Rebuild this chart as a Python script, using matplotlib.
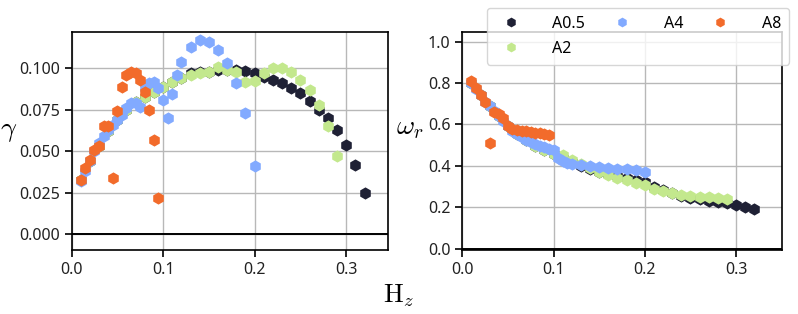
import matplotlib
matplotlib.use("Agg")
import matplotlib.pyplot as plt
from matplotlib.ticker import FormatStrFormatter, MultipleLocator

plt.rcParams['font.family'] = ['Noto Sans', 'DejaVu Sans']
plt.rcParams['mathtext.fontset'] = 'cm'

# ---- data ----
labels = ["A0.5", "A2", "A4", "A8"]
colors = ["#1f2135", "#c3e88d", "#82aaff", "#f26b2b"]

x_a05 = [0.01, 0.02, 0.03, 0.04, 0.05, 0.06, 0.07, 0.08, 0.09, 0.10, 0.11, 0.12,
         0.13, 0.14, 0.15, 0.16, 0.17, 0.18, 0.19, 0.20, 0.21, 0.22, 0.23, 0.24,
         0.25, 0.26, 0.27, 0.28, 0.29, 0.30, 0.31, 0.32]
g_a05 = [0.033, 0.044, 0.053, 0.062, 0.069, 0.075, 0.080, 0.083, 0.086, 0.089, 0.092, 0.094,
         0.097, 0.0975, 0.098, 0.099, 0.099, 0.099, 0.0986, 0.0974, 0.095, 0.093, 0.091, 0.088,
         0.085, 0.0805, 0.075, 0.070, 0.063, 0.054, 0.042, 0.025]
w_a05 = [0.80, 0.74, 0.69, 0.64, 0.59, 0.555, 0.525, 0.495, 0.475, 0.458, 0.44, 0.42,
         0.40, 0.385, 0.37, 0.36, 0.35, 0.34, 0.33, 0.322, 0.30, 0.285, 0.27, 0.255,
         0.245, 0.238, 0.232, 0.226, 0.22, 0.212, 0.203, 0.19]

x_a2 = [0.01, 0.02, 0.03, 0.04, 0.05, 0.06, 0.07, 0.08, 0.09, 0.10, 0.11, 0.12,
        0.13, 0.14, 0.15, 0.16, 0.17, 0.18, 0.19, 0.20, 0.21, 0.22, 0.23, 0.24,
        0.25, 0.26, 0.27, 0.28, 0.29]
g_a2 = [0.033, 0.044, 0.053, 0.062, 0.069, 0.075, 0.080, 0.083, 0.086, 0.089, 0.092, 0.094,
        0.096, 0.097, 0.098, 0.101, 0.099, 0.098, 0.092, 0.0925, 0.097, 0.100, 0.100, 0.098,
        0.093, 0.087, 0.078, 0.065, 0.047]
w_a2 = [0.80, 0.74, 0.69, 0.64, 0.59, 0.555, 0.525, 0.495, 0.475, 0.458, 0.45, 0.43,
        0.41, 0.39, 0.37, 0.355, 0.34, 0.33, 0.318, 0.305, 0.29, 0.278, 0.267, 0.26,
        0.255, 0.25, 0.247, 0.244, 0.24]

x_a4 = [0.010, 0.015, 0.020, 0.025, 0.030, 0.035, 0.040, 0.045, 0.050, 0.055, 0.060,
        0.065, 0.070, 0.075, 0.080, 0.085, 0.090, 0.095, 0.100, 0.105, 0.110, 0.115,
        0.120, 0.13, 0.14, 0.15, 0.16, 0.17, 0.18, 0.19, 0.20]
g_a4 = [0.032, 0.038, 0.044, 0.050, 0.055, 0.059, 0.063, 0.066, 0.069, 0.072, 0.076,
        0.079, 0.079, 0.077, 0.088, 0.091, 0.092, 0.088, 0.081, 0.070, 0.0845, 0.096,
        0.104, 0.113, 0.117, 0.116, 0.111, 0.103, 0.091, 0.073, 0.041]
w_a4 = [0.80, 0.77, 0.74, 0.71, 0.69, 0.665, 0.64, 0.615, 0.59, 0.57, 0.555,
        0.54, 0.525, 0.515, 0.505, 0.497, 0.49, 0.482, 0.475, 0.44, 0.425, 0.415,
        0.41, 0.405, 0.40, 0.395, 0.39, 0.387, 0.383, 0.378, 0.37]

x_a8 = [0.010, 0.015, 0.020, 0.025, 0.030, 0.035, 0.040, 0.045, 0.050, 0.055,
        0.060, 0.065, 0.070, 0.075, 0.080, 0.085, 0.090, 0.095]
g_a8 = [0.033, 0.040, 0.045, 0.051, 0.053, 0.065, 0.065, 0.034, 0.074, 0.089,
        0.096, 0.098, 0.097, 0.093, 0.086, 0.075, 0.057, 0.022]
w_a8 = [0.81, 0.775, 0.743, 0.708, 0.51, 0.662, 0.650, 0.633, 0.59, 0.58,
        0.575, 0.57, 0.567, 0.563, 0.56, 0.557, 0.553, 0.55]

xs = [x_a05, x_a2, x_a4, x_a8]
gs = [g_a05, g_a2, g_a4, g_a8]
ws = [w_a05, w_a2, w_a4, w_a8]

fig = plt.figure(figsize=(7.98, 3.14), dpi=100)
ax1 = fig.add_axes([0.0896, 0.203, 0.397, 0.696])
ax2 = fig.add_axes([0.5793, 0.203, 0.4003, 0.696])

handles = []
for x, g, w, c, lab in zip(xs, gs, ws, colors, labels):
    h, = ax1.plot(x, g, linestyle='none', marker='h', ms=8.8, mec='none', color=c, label=lab)
    ax2.plot(x, w, linestyle='none', marker='h', ms=8.8, mec='none', color=c, label=lab)
    handles.append(h)

for ax in (ax1, ax2):
    ax.axhline(0, color='black', lw=1.4, zorder=1)
    ax.grid(True, color='#b8b8b8', lw=1.0)
    ax.set_axisbelow(True)
    for s in ax.spines.values():
        s.set_color('black')
        s.set_linewidth(1.2)
    ax.tick_params(direction='out', length=5, width=1.2, labelsize=11.5, color='black',
                   labelcolor='#222222')
    ax.xaxis.set_major_locator(MultipleLocator(0.1))
    ax.xaxis.set_major_formatter(FormatStrFormatter('%.1f'))

ax1.set_xlim(0, 0.346)
ax1.set_ylim(-0.0095, 0.122)
ax1.yaxis.set_major_locator(MultipleLocator(0.025))
ax1.yaxis.set_major_formatter(FormatStrFormatter('%.3f'))
ax1.set_ylabel(r'$\gamma$', fontsize=20, rotation=0, va='center', ha='center')
ax1.yaxis.set_label_coords(-0.198, 0.55)

ax2.set_xlim(0, 0.35)
ax2.set_ylim(-0.008, 1.048)
ax2.yaxis.set_major_locator(MultipleLocator(0.2))
ax2.yaxis.set_major_formatter(FormatStrFormatter('%.1f'))
ax2.set_ylabel(r'$\omega_r$', fontsize=20, rotation=0, va='center', ha='center')
ax2.yaxis.set_label_coords(-0.163, 0.565)

fig.text(0.5, 0.035, r'$\mathrm{H}_z$', fontsize=19, ha='center', va='baseline')

fig.legend(handles=handles, labels=labels, ncol=3, mode='expand',
           loc='upper left', bbox_to_anchor=(0.610, 0.793, 0.379, 0.182),
           bbox_transform=fig.transFigure, fontsize=11.5, markerscale=0.8,
           framealpha=0.8, edgecolor='#cccccc', handletextpad=1.6, borderpad=0.5,
           borderaxespad=0, labelspacing=0.55)

fig.savefig('out.png', dpi=100)
